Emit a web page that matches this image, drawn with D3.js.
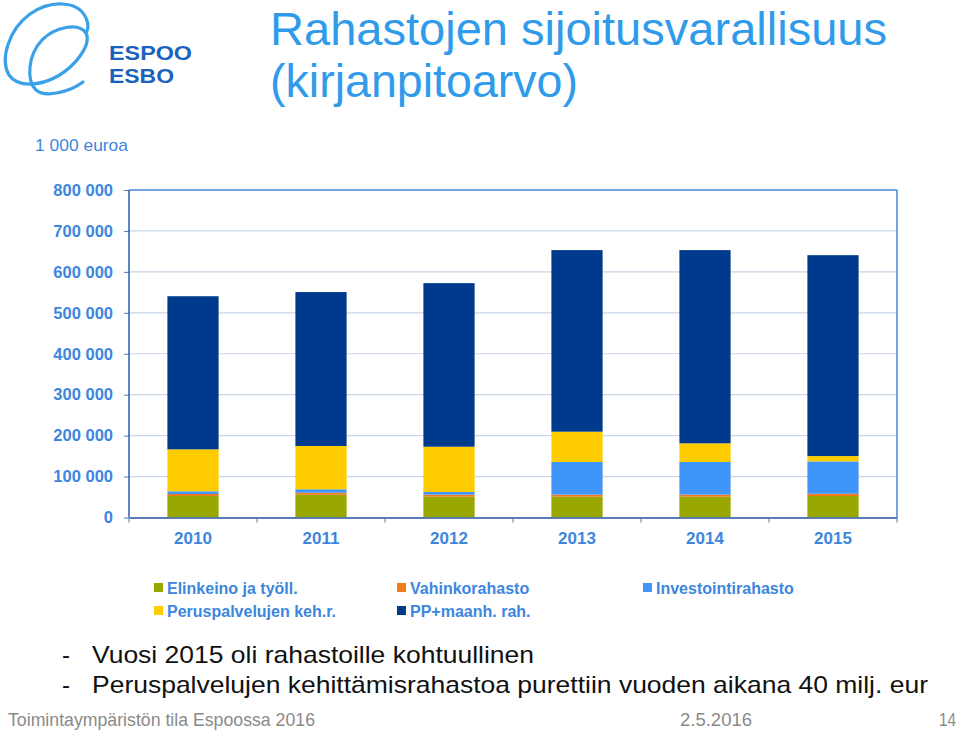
<!DOCTYPE html>
<html><head><meta charset="utf-8">
<script src="https://cdn.jsdelivr.net/npm/d3@7"></script>
<style>body{margin:0;background:#fff}svg{display:block}</style>
</head><body><div id="c"></div>
<script>
const years = ["2010","2011","2012","2013","2014","2015"];
const seriesNames = ["Elinkeino ja työll.","Vahinkorahasto","Investointirahasto","Peruspalvelujen keh.r.","PP+maanh. rah."];
const elinkeino = [52500, 55700, 50800, 50800, 50800, 52500];
const vahinko   = [5000, 5000, 5000, 5000, 5000, 5600];
const investointi = [6500, 8300, 6500, 79800, 79800, 79000];
const peruspalvelu = [102500, 105700, 110600, 74000, 45600, 13000];
const ppMaanh = [374000, 376000, 399600, 443600, 472000, 490700];
const yTicks = [0,100000,200000,300000,400000,500000,600000,700000,800000];
const colors = ["#98A600","#F07A1E","#3F95FA","#FFCC00","#003A8C"];

const W=960,H=733;
const svg=d3.select("#c").append("svg").attr("width",W).attr("height",H);
const fontN="'Liberation Sans Narrow','Liberation Sans',Arial,sans-serif";
const font="'Liberation Sans',Arial,sans-serif";
const blue="#3D86DE";

// logo
const logo=svg.append("g");
logo.append("path")
 .attr("d","M 83 82 C 70 92 45 98 36 90 C 26 80 28 55 42 40 C 55 27 78 22 86 33 C 92 45 75 66 58 76 C 40 86 18 88 9 75 C 0 60 8 30 30 14 C 50 0 78 0 86 18 C 89 25 88 30 86 33")
 .attr("fill","none").attr("stroke","#3AA0E8").attr("stroke-width",3.2).attr("stroke-linecap","round");
logo.append("text").attr("x",109).attr("y",60).attr("font-family",font).attr("font-weight","bold")
 .attr("font-size",19.5).attr("fill","#1B62C0").attr("textLength",83).attr("lengthAdjust","spacingAndGlyphs").text("ESPOO");
logo.append("text").attr("x",109).attr("y",82.5).attr("font-family",font).attr("font-weight","bold")
 .attr("font-size",19.5).attr("fill","#1B62C0").attr("textLength",65).attr("lengthAdjust","spacingAndGlyphs").text("ESBO");

// title
svg.append("text").attr("x",270).attr("y",45).attr("font-family",fontN).attr("font-size",47)
 .attr("fill","#2F9BEA").attr("textLength",617).attr("lengthAdjust","spacingAndGlyphs").text("Rahastojen sijoitusvarallisuus");
svg.append("text").attr("x",270).attr("y",97).attr("font-family",fontN).attr("font-size",47)
 .attr("fill","#2F9BEA").attr("textLength",308).attr("lengthAdjust","spacingAndGlyphs").text("(kirjanpitoarvo)");

svg.append("text").attr("x",35).attr("y",151).attr("font-family",font).attr("font-size",17)
 .attr("fill",blue).attr("textLength",93).attr("lengthAdjust","spacingAndGlyphs").text("1 000 euroa");

const L=129,R=897,T=190,B=517.5;
const x=d3.scaleBand().domain(years).range([L,R]).paddingInner(0.6).paddingOuter(0.3);
const y=d3.scaleLinear().domain([0,800000]).range([B,T]);

// gridlines
svg.append("g").selectAll("line").data(yTicks.filter(d=>d>0&&d<800000)).join("line")
 .attr("x1",L).attr("x2",R).attr("y1",d=>y(d)).attr("y2",d=>y(d)).attr("stroke","#C9D6E6").attr("stroke-width",1.2);

// y axis
const yAxis=svg.append("g").attr("transform",`translate(${L},0)`)
 .call(d3.axisLeft(y).tickValues(yTicks).tickSize(5).tickPadding(11).tickFormat(d=>d3.format(",")(d).replace(/,/g," ")));
yAxis.select(".domain").remove();
yAxis.selectAll(".tick line").attr("stroke","#5578B0");
yAxis.selectAll("text").attr("font-family",font).attr("font-weight","bold").attr("font-size",16.5).attr("fill",blue);

// stacks
const data=years.map((yr,i)=>({year:yr,s0:elinkeino[i],s1:vahinko[i],s2:investointi[i],s3:peruspalvelu[i],s4:ppMaanh[i]}));
const stack=d3.stack().keys(["s0","s1","s2","s3","s4"])(data);
svg.append("g").selectAll("g").data(stack).join("g").attr("fill",(d,i)=>colors[i])
 .selectAll("rect").data(d=>d).join("rect")
 .attr("x",d=>x(d.data.year)).attr("width",x.bandwidth())
 .attr("y",d=>y(d[1])).attr("height",d=>y(d[0])-y(d[1]));

// borders
svg.append("line").attr("x1",L).attr("x2",R).attr("y1",T).attr("y2",T).attr("stroke","#4A86D8").attr("stroke-width",1.5);
svg.append("line").attr("x1",R).attr("x2",R).attr("y1",T).attr("y2",B).attr("stroke","#4A86D8").attr("stroke-width",1.5);
svg.append("line").attr("x1",L).attr("x2",L).attr("y1",T).attr("y2",B).attr("stroke","#2B5BA8").attr("stroke-width",1.5);

// x axis
const step=x.step();
const xAxis=svg.append("g").attr("transform",`translate(0,${B})`)
 .call(d3.axisBottom(x).tickSize(0).tickPadding(14));
xAxis.select(".domain").attr("stroke","#5B7BB2").attr("stroke-width",2);
xAxis.selectAll("text").attr("font-family",font).attr("font-weight","bold").attr("font-size",17).attr("fill",blue);
xAxis.append("g").selectAll("line").data(d3.range(years.length+1)).join("line")
 .attr("x1",i=>L+i*step).attr("x2",i=>L+i*step).attr("y1",0).attr("y2",5).attr("stroke","#5578B0");

// legend
const legPos=[[154,594],[397,594],[643,594],[154,617],[397,617]];
const leg=svg.append("g").selectAll("g").data(seriesNames).join("g")
 .attr("transform",(d,i)=>`translate(${legPos[i][0]},${legPos[i][1]})`);
leg.append("rect").attr("x",0).attr("y",-11).attr("width",9).attr("height",9).attr("fill",(d,i)=>colors[i]);
leg.append("text").attr("x",13).attr("y",0).attr("font-family",font).attr("font-weight","bold").attr("font-size",16)
 .attr("fill",blue).text(d=>d);

// bullets
const bullets=["Vuosi 2015 oli rahastoille kohtuullinen","Peruspalvelujen kehittämisrahastoa purettiin vuoden aikana 40 milj. eur"];
const bLen=[442,836];
bullets.forEach((t,i)=>{
 svg.append("text").attr("x",62).attr("y",663+i*30).attr("font-family",fontN).attr("font-size",24).attr("fill","#111").text("-");
 svg.append("text").attr("x",92).attr("y",663+i*30).attr("font-family",fontN).attr("font-size",24).attr("fill","#111")
  .attr("textLength",bLen[i]).attr("lengthAdjust","spacingAndGlyphs").text(t);
});

// footer
svg.append("text").attr("x",8).attr("y",726).attr("font-family",fontN).attr("font-size",18.5).attr("fill","#8A8A8A")
 .attr("textLength",307).attr("lengthAdjust","spacingAndGlyphs").text("Toimintaympäristön tila Espoossa 2016");
svg.append("text").attr("x",680).attr("y",726).attr("font-family",fontN).attr("font-size",18.5).attr("fill","#8A8A8A")
 .attr("textLength",72).attr("lengthAdjust","spacingAndGlyphs").text("2.5.2016");
svg.append("text").attr("x",939).attr("y",726).attr("font-family",fontN).attr("font-size",18.5).attr("fill","#8A8A8A")
 .attr("textLength",17).attr("lengthAdjust","spacingAndGlyphs").text("14");
</script></body></html>
